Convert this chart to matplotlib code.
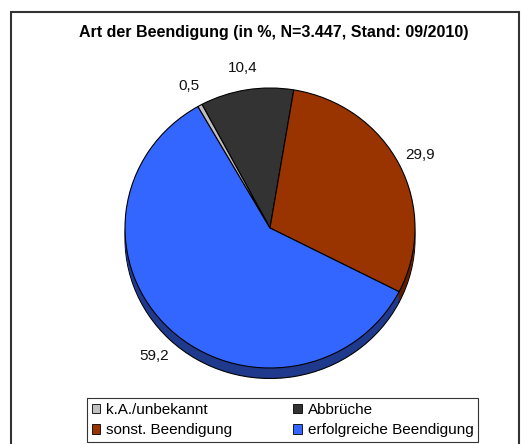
import matplotlib
matplotlib.use("Agg")
import matplotlib.pyplot as plt
from matplotlib.patches import Patch, Rectangle

plt.rcParams['font.family'] = ['Liberation Sans', 'DejaVu Sans']

# slices in clockwise order starting left of top
labels = ["Abbrüche", "sonst. Beendigung", "erfolgreiche Beendigung", "k.A./unbekannt"]
values = [10.4, 29.9, 59.2, 0.5]
value_text = ["10,4", "29,9", "59,2", "0,5"]
top_colors = ["#333333", "#993300", "#3366FF", "#C0C0C0"]
side_colors = ["#1E1E1E", "#5E1F00", "#1F3A8C", "#808080"]

legend_order = ["k.A./unbekannt", "sonst. Beendigung", "Abbrüche", "erfolgreiche Beendigung"]

W, H = 521, 444
fig = plt.figure(figsize=(W / 100, H / 100), dpi=100)

# pie area: top face 290 x 280 px, centre at (270, 228)
depth = 0.075
ax = fig.add_axes([125 / W, (H - 382) / H, 290 / W, 294 / H])
ax.axis('off')

start = 118
# side of the 3D pie: stacked darker copies
n = 8
for i in range(n, 0, -1):
    off = depth * i / n
    ax.pie(values, colors=side_colors, startangle=start, counterclock=False,
           center=(0, -off), radius=1,
           wedgeprops=dict(linewidth=0.8 if i == n else 0, edgecolor='black'))

wedges, texts = ax.pie(values, colors=top_colors, startangle=start, counterclock=False,
                       labels=value_text, labeldistance=1.16,
                       wedgeprops=dict(linewidth=0.8, edgecolor='black'),
                       textprops=dict(fontsize=11, color='#111111'))
for t in texts:
    t.set_ha('center')
    t.set_va('center')
# the bottom label sits below the pie's side, as in the original
texts[2].set_position((texts[2].get_position()[0], texts[2].get_position()[1] - depth))
ax.set_xlim(-1, 1)
ax.set_ylim(-1.1, 1)
ax.set_aspect('auto')

fig.text(274 / W, 1 - 33 / H, "Art der Beendigung (in %, N=3.447, Stand: 09/2010)",
         ha='center', va='center', fontsize=11.5, fontweight='bold')

handles = []
for lab in legend_order:
    c = top_colors[labels.index(lab)]
    handles.append(Patch(facecolor=c, edgecolor='black', linewidth=0.6, label=lab))
leg = fig.legend(handles=handles, ncol=2, loc='upper left',
                 bbox_to_anchor=(87 / W, 1 - 398 / H), fontsize=11,
                 frameon=True, fancybox=False, borderaxespad=0,
                 handlelength=0.55, handleheight=0.55, handletextpad=0.4,
                 labelspacing=0.45, columnspacing=4.0, borderpad=0.3)
leg.get_frame().set_edgecolor('black')
leg.get_frame().set_linewidth(0.8)

fig.patches.append(Rectangle((11 / W, -0.01), (519 - 11) / W, (H - 12) / H + 0.01,
                             transform=fig.transFigure, fill=False,
                             edgecolor='#333333', linewidth=1.5))

fig.savefig("out.png", dpi=100, facecolor='white')
